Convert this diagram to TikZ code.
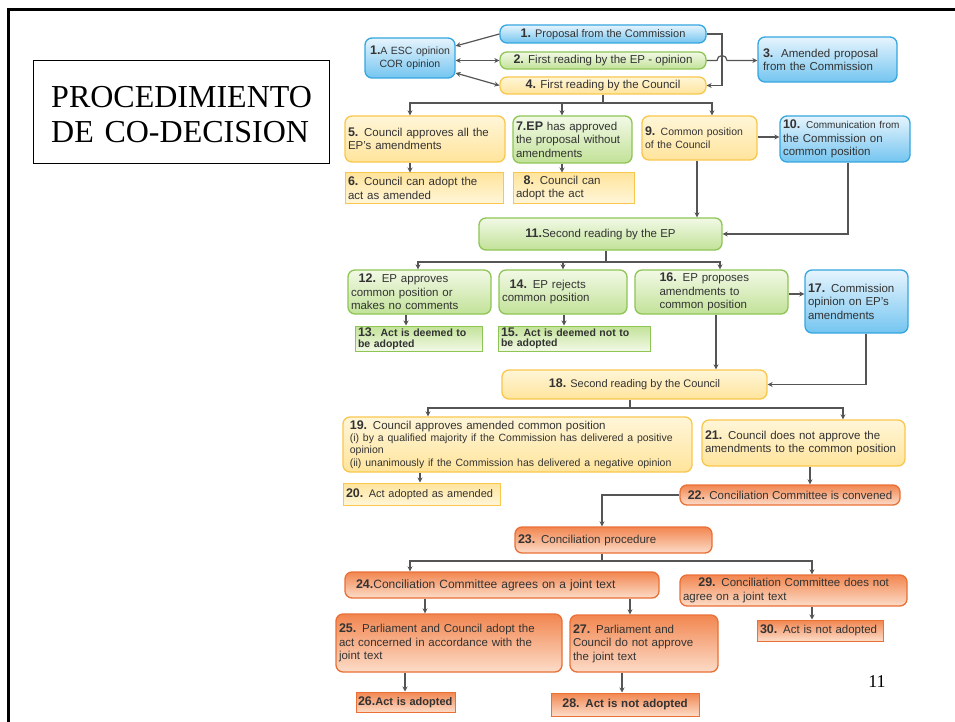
\documentclass[tikz,border=0pt]{standalone}
\usepackage{fontspec}
\setmainfont{Liberation Sans}
\newfontfamily\tnr{Liberation Serif}
\usetikzlibrary{arrows.meta,calc}
\definecolor{txt}{HTML}{333333}
\definecolor{lnc}{HTML}{555555}
\definecolor{bluB}{HTML}{35A6E0}
\definecolor{bluT}{HTML}{E6F4FD}
\definecolor{bluD}{HTML}{74C5F0}
\definecolor{grnB}{HTML}{8FC555}
\definecolor{grnT}{HTML}{F2F9E6}
\definecolor{grnD}{HTML}{C2E298}
\definecolor{yelB}{HTML}{F9C74D}
\definecolor{yelT}{HTML}{FFF6D8}
\definecolor{yelD}{HTML}{FFE49C}
\definecolor{orgB}{HTML}{EA7036}
\definecolor{orgT}{HTML}{F28650}
\definecolor{orgD}{HTML}{FCDCC8}
\newcommand{\nb}[1]{{\bfseries\fontsize{12.5}{13}\selectfont #1}}
\tikzset{
  rbox/.style={rounded corners=7pt, line width=1.3pt, inner xsep=3pt, inner ysep=2pt,
    font=\fontsize{11.5}{13.5}\selectfont, text=txt},
  sbox/.style={line width=1pt, inner xsep=3pt, inner ysep=1pt,
    font=\fontsize{11.5}{13.5}\selectfont, text=txt},
  blu/.style={rbox, draw=bluB, top color=bluT, bottom color=bluD},
  grn/.style={rbox, draw=grnB, top color=grnT, bottom color=grnD},
  yel/.style={rbox, draw=yelB, top color=yelT, bottom color=yelD},
  org/.style={rbox, draw=orgB, top color=orgT, bottom color=orgD},
  ysq/.style={sbox, draw=yelB, top color=yelD, bottom color=yelT},
  gsq/.style={sbox, draw=grnB, top color=grnD, bottom color=grnT},
  osq/.style={sbox, draw=orgB, top color=orgT, bottom color=orgD},
  ln/.style={draw=lnc, line width=1.2pt},
  arr/.style={ln, -{Stealth[length=5pt,width=5pt]}},
  darr/.style={ln, {Stealth[length=5pt,width=5pt]}-{Stealth[length=5pt,width=5pt]}},
}
\begin{document}
\begin{tikzpicture}[x=1pt,y=-1pt]
\useasboundingbox (0,0) rectangle (955,722);
\fill[white] (0,0) rectangle (955,722);
% frame
\draw[line width=3pt] (8,722) -- (8,10) -- (955,10);
% title
\node[draw=black, line width=0.6pt, minimum width=296pt, minimum height=103pt] (titlebox) at (181,111.5) {};
\node[align=left, text width=264pt, font=\tnr\fontsize{32}{35}\selectfont, anchor=west] (title) at ([xshift=15pt,yshift=-3pt]titlebox.west)
  {PROCEDIMIENTO\\DE CO-DECISION};
\node[font=\tnr\fontsize{18}{20}\selectfont] (pg) at (877,682) {11};

% row 1
\node[blu, minimum width=206pt, minimum height=18pt, font=\fontsize{11}{13}\selectfont] (n1) at (603,34) {\nb{1.} Proposal from the Commission};
\node[blu, minimum width=90pt, minimum height=40pt, align=center, text width=88pt, inner xsep=1pt, font=\fontsize{10.5}{13}\selectfont] (n1a) at (410,58) {\nb{1.}A ESC opinion\\COR opinion};
\node[grn, minimum width=206pt, minimum height=17pt] (n2) at (603,60.5) {\nb{2.} First reading by the EP - opinion};
\node[yel, minimum width=206pt, minimum height=17pt] (n4) at (603,85.5) {\nb{4.} First reading by the Council};
\node[blu, minimum width=139pt, minimum height=45pt, align=left, text width=129pt] (n3) at (827.5,59.5) {\nb{3.}\ \ Amended proposal\\from the Commission};

% row 2
\node[yel, minimum width=160pt, minimum height=46pt, align=left, text width=154pt] (n5) at (425,139) {\nb{5.} Council approves all the\\EP's amendments};
\node[ysq, minimum width=158pt, minimum height=30pt, align=left, text width=152pt] (n6) at (424,188) {\nb{6.} Council can adopt the\\act as amended};
\node[grn, minimum width=119pt, minimum height=47pt, align=left, text width=113pt] (n7) at (572.5,139.5) {\nb{7.EP} has approved\\the proposal without\\amendments};
\node[ysq, minimum width=121pt, minimum height=30pt, align=left, text width=115pt] (n8) at (573.5,188) {\ \ \nb{8.} Council can\\adopt the act};
\node[yel, minimum width=115pt, minimum height=44pt, align=left, text width=109pt, font=\fontsize{10.5}{13}\selectfont] (n9) at (699.5,138) {\nb{9.} Common position\\of the Council};
\node[blu, minimum width=130pt, minimum height=46pt, align=left, text width=124pt] (n10) at (845,139) {\nb{10.} {\fontsize{10}{12}\selectfont Communication from}\\the Commission on\\common position};

% row 3
\node[grn, minimum width=243pt, minimum height=32pt] (n11) at (600.5,234) {\nb{11.}Second reading by the EP};
\node[grn, minimum width=143pt, minimum height=44pt, align=left, text width=137pt] (n12) at (419.5,292) {\ \ \nb{12.} EP approves\\common position or\\makes no comments};
\node[gsq, minimum width=127pt, minimum height=25pt, align=left, text width=121pt, font=\bfseries\fontsize{10.5}{10.5}\selectfont] (n13) at (418.5,338.5) {\nb{13.} Act is deemed to\\be adopted};
\node[grn, minimum width=128pt, minimum height=44pt, align=left, text width=122pt] (n14) at (563,292) {\ \ \nb{14.} EP rejects\\common position\\[6pt]};
\node[gsq, minimum width=152pt, minimum height=25pt, align=left, text width=146pt, font=\bfseries\fontsize{10.5}{10.5}\selectfont] (n15) at (574,338.5) {\nb{15.} Act is deemed not to\\be adopted};
\node[grn, minimum width=153pt, minimum height=44pt, align=left, text width=104pt] (n16) at (711.5,292) {\nb{16.} EP proposes\\amendments to\\common position};
\node[blu, minimum width=103pt, minimum height=63pt, align=left, text width=97pt] (n17) at (856.5,301.5) {\nb{17.} Commission\\opinion on EP's\\amendments\\[8pt]};

% row 4
\node[yel, minimum width=265pt, minimum height=29pt, font=\fontsize{11}{13}\selectfont] (n18) at (634.5,384.5) {\nb{18.} Second reading by the Council};
\node[yel, minimum width=349pt, minimum height=55pt, align=left, text width=343pt] (n19) at (517.5,444.5) {\ \nb{19.} Council approves amended common position\\
  {\fontsize{10.5}{12}\selectfont \ (i) by a qualified majority if the Commission has delivered a positive\\\ opinion\\\ (ii) unanimously if the Commission has delivered a negative opinion}};
\node[ysq, minimum width=157pt, minimum height=22pt, align=left, text width=151pt, font=\fontsize{11}{13}\selectfont] (n20) at (421.5,494) {\mbox{\nb{20.} Act adopted as amended}};
\node[yel, minimum width=203pt, minimum height=46pt, align=left, text width=197pt] (n21) at (803.5,443) {\nb{21.} Council does not approve the\\amendments to the common position};
\node[org, minimum width=220pt, minimum height=20pt] (n22) at (790,495) {\nb{22.} Conciliation Committee is convened};

% row 5
\node[org, minimum width=197pt, minimum height=26pt, align=left, text width=191pt] (n23) at (613.5,540) {\nb{23.} Conciliation procedure};
\node[org, minimum width=314pt, minimum height=26pt, align=left, text width=308pt, font=\fontsize{12}{14}\selectfont] (n24) at (502,585) {\ \ \nb{24.}Conciliation Committee agrees on a joint text};
\node[org, minimum width=227pt, minimum height=31pt, align=left, text width=221pt] (n29) at (793.5,590.5) {\ \ \ \ \nb{29.} Conciliation Committee does not\\agree on a joint text};
\node[org, minimum width=226pt, minimum height=58pt, align=left, text width=220pt] (n25) at (449,643) {\nb{25.} Parliament and Council adopt the\\act concerned in accordance with the\\joint text};
\node[org, minimum width=148pt, minimum height=57pt, align=left, text width=142pt] (n27) at (644,643.5) {\nb{27.} Parliament and\\Council do not approve\\the joint text\\[4pt]};
\node[osq, minimum width=126pt, minimum height=21pt, align=left, text width=120pt] (n30) at (820,630.5) {\mbox{\nb{30.} Act is not adopted}};
\node[osq, minimum width=99pt, minimum height=20pt, align=left, text width=95pt, inner xsep=2pt, font=\bfseries\fontsize{11}{13}\selectfont] (n26) at (405.5,702) {\mbox{\nb{26.}Act is adopted}};
\node[osq, minimum width=148pt, minimum height=23pt, align=center, text width=142pt, font=\bfseries\fontsize{11.5}{13}\selectfont] (n28) at (625,704.5) {\nb{28.} Act is not adopted};

% connectors, top
\draw[arr] (n1.west) -- (n1a.east |- 0,46);
\draw[darr] (n1a.east |- n2.west) -- (n2.west);
\draw[darr] (n1a.east |- 0,73) -- (n4.west);
\coordinate (c1) at (722,34);
\draw[arr] (n1.east) -- (c1) |- (n4.east);
\draw[arr] (n2.east) -- (717,60.5) arc[start angle=180, end angle=0, radius=5pt] -- (n3.west |- n2.east);
\coordinate (j1) at (603,103);
\draw[ln] (n4.south) -- (j1);
\draw[arr] (j1) -| (n5.north -| 410,0);
\draw[arr] (j1) -| (n7.north -| 562,0);
\draw[arr] (j1) -| (n9.north -| 712,0);
\draw[arr] (n5.south -| 410,0) -- (n6.north -| 410,0);
\draw[arr] (n7.south -| 562,0) -- (n8.north -| 562,0);
\draw[arr] (n9.east |- 0,137) -- (n10.west |- 0,137);
\draw[arr] (n9.south -| 697,0) -- (n11.north -| 697,0);
\draw[arr] (n10.south -| 848,0) |- (n11.east);
% second reading EP
\coordinate (j2) at (606,262);
\draw[ln] (n11.south -| 606,0) -- (j2);
\draw[arr] (j2) -| (n12.north -| 418,0);
\draw[arr] (j2) -| (n14.north -| 563,0);
\draw[arr] (j2) -| (n16.north -| 720,0);
\draw[arr] (n12.south -| 406,0) -- (n13.north -| 406,0);
\draw[arr] (n14.south -| 564,0) -- (n15.north -| 564,0);
\draw[arr] (n16.east |- 0,294) -- (n17.west |- 0,294);
\draw[arr] (n16.south -| 716,0) -- (n18.north -| 716,0);
\draw[arr] (n17.south -| 866,0) |- (n18.east);
% second reading council
\coordinate (j3) at (630,408);
\draw[ln] (n18.south -| 630,0) -- (j3);
\draw[arr] (j3) -| (n19.north -| 428,0);
\draw[arr] (j3) -| (n21.north -| 843,0);
\draw[arr] (n19.south -| 420,0) -- (n20.north -| 420,0);
\draw[arr] (n21.south -| 810,0) -- (n22.north -| 810,0);
\draw[arr] (n22.west) -| (n23.north -| 602,0);
% conciliation
\coordinate (j4) at (602,561);
\draw[ln] (n23.south -| 602,0) -- (j4);
\draw[arr] (j4) -| (n24.north -| 410,0);
\draw[arr] (j4) -| (n29.north -| 812,0);
\draw[arr] (n24.south -| 425,0) -- (n25.north -| 425,0);
\draw[arr] (n24.south -| 630,0) -- (n27.north -| 630,0);
\draw[arr] (n29.south -| 812,0) -- (n30.north -| 812,0);
\draw[arr] (n25.south -| 405,0) -- (n26.north -| 405,0);
\draw[arr] (n27.south -| 622,0) -- (n28.north -| 622,0);
\end{tikzpicture}
\end{document}
